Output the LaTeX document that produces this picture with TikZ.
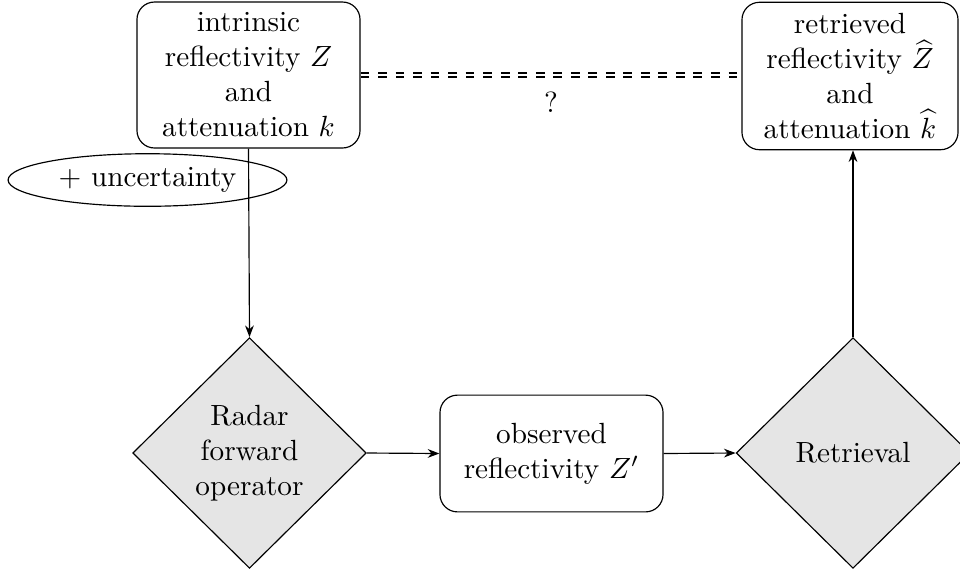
\documentclass[tikz,border=0pt]{standalone}
\usetikzlibrary{shapes.geometric,arrows.meta}
\begin{document}
\begin{tikzpicture}[x=0.3425pt,y=-0.3425pt,
  roundbox/.style={draw,rounded corners=6pt,align=center,inner sep=2pt},
  decision/.style={draw,diamond,fill=gray!20,align=center,inner sep=0pt,minimum width=80pt,minimum height=79pt},
  arr/.style={-{Stealth[length=4pt,width=3pt]}},
  eq/.style={dashed,double,double distance=0.7pt,line width=0.6pt}]
\useasboundingbox (0,0) rectangle (960,572);
\node[roundbox,minimum width=76.4pt,minimum height=50pt] (intr) at (248.5,75) {intrinsic\\reflectivity $Z$\\and\\attenuation $k$};
\node[roundbox,minimum width=74pt,minimum height=50.5pt] (retr) at (850,76) {retrieved\\reflectivity $\widehat{Z}$\\and\\attenuation $\widehat{k}$};
\node[draw,ellipse,minimum width=95.5pt,minimum height=18pt,inner sep=0pt] (unc) at (147.5,180) {+ uncertainty};
\node[decision] (rfo) at (249.5,453) {Radar\\forward\\operator};
\node[roundbox,minimum width=76.4pt,minimum height=40pt] (obs) at (551.5,453.5) {observed\\reflectivity $Z'$};
\node[decision] (ret) at (853,453) {Retrieval};
\draw[arr] (intr.south) -- (rfo.north);
\draw[arr] (rfo.east) -- (obs.west);
\draw[arr] (obs.east) -- (ret.west);
\draw[arr] (ret.north) -- (ret.north |- retr.south);
\draw[eq] (intr.east) -- node[below=2pt] {?} (intr.east -| retr.west);
\end{tikzpicture}
\end{document}
